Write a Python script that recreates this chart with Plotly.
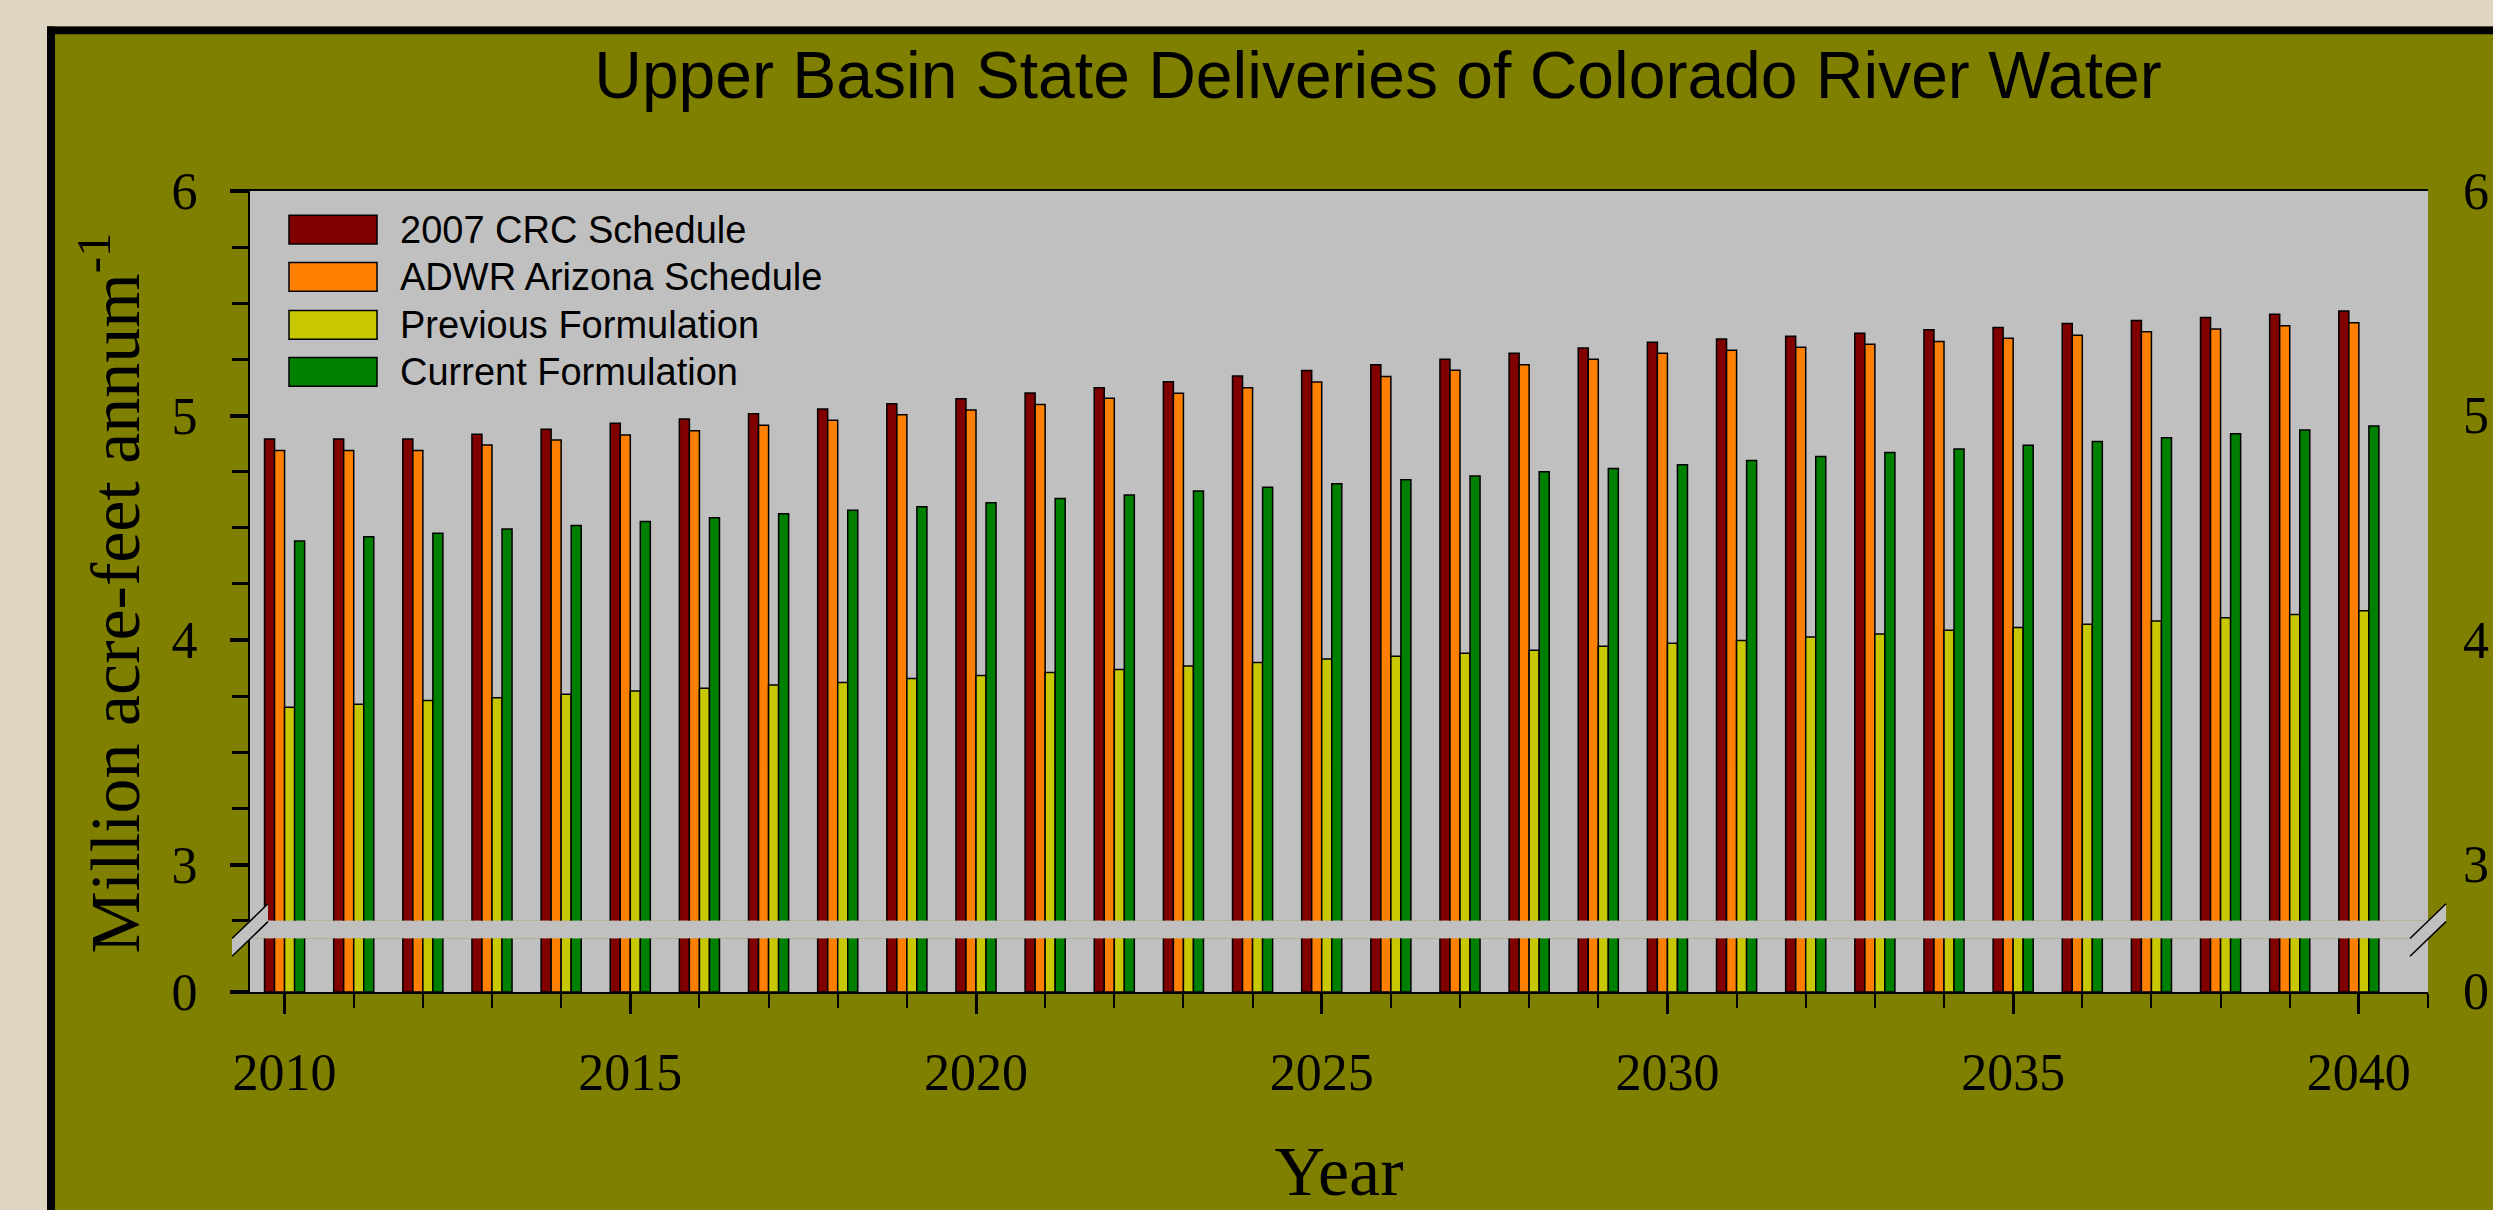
import plotly.graph_objects as go

# ---------------- data ----------------
years = list(range(2010, 2041))
crc_2007 = [4.895, 4.895, 4.895, 4.917, 4.939, 4.965, 4.984, 5.008, 5.029, 5.052,
            5.075, 5.100, 5.124, 5.150, 5.176, 5.200, 5.226, 5.251, 5.277, 5.301,
            5.326, 5.341, 5.353, 5.366, 5.382, 5.392, 5.410, 5.423, 5.437, 5.451, 5.465]
adwr_arizona = [4.844, 4.844, 4.844, 4.869, 4.891, 4.913, 4.932, 4.957, 4.979, 5.003,
                5.025, 5.049, 5.077, 5.099, 5.124, 5.149, 5.174, 5.202, 5.226, 5.251,
                5.277, 5.291, 5.304, 5.317, 5.330, 5.344, 5.358, 5.373, 5.385, 5.400, 5.413]
previous_form = [3.700, 3.714, 3.730, 3.743, 3.758, 3.773, 3.785, 3.800, 3.811, 3.829,
                 3.842, 3.855, 3.869, 3.884, 3.900, 3.915, 3.928, 3.941, 3.954, 3.972,
                 3.985, 3.998, 4.013, 4.027, 4.043, 4.056, 4.070, 4.085, 4.099, 4.114, 4.130]
current_form = [4.441, 4.460, 4.476, 4.494, 4.510, 4.528, 4.544, 4.562, 4.578, 4.594,
                4.611, 4.630, 4.646, 4.664, 4.680, 4.696, 4.714, 4.731, 4.749, 4.764,
                4.781, 4.799, 4.817, 4.835, 4.851, 4.867, 4.884, 4.901, 4.919, 4.935, 4.953]

series_names = ["2007 CRC Schedule", "ADWR Arizona Schedule",
                "Previous Formulation", "Current Formulation"]
series_values = [crc_2007, adwr_arizona, previous_form, current_form]
series_colors = ["#800000", "#FF8000", "#C8C800", "#008000"]

y_major_ticks = [3, 4, 5, 6]
y_low_ticks = [0]

# ---------------- geometry ----------------
W, H = 2493, 1210
ML, MR, MT, MB = 250, 65, 191, 211
PW = W - ML - MR
PH = H - MT - MB


def fx(px):
    return (px - ML) / PW


def fy(py):
    return (H - MB - py) / PH


TOP_BOTTOM_PX = 927
LOW_TOP_PX = 945
UNIT_PX = (TOP_BOTTOM_PX - MT) / 3.25
LOW_MAX = (H - MB - LOW_TOP_PX) / UNIT_PX

OLIVE = "#808000"
GRAY = "#C0C0C0"
BEIGE = "#DED5C2"
SERIF = "Liberation Serif"
SANS = "Liberation Sans"

fig = go.Figure()
for name, vals, col in zip(series_names, series_values, series_colors):
    for xa, ya in (("x", "y"), ("x2", "y2")):
        fig.add_trace(go.Bar(
            x=years, y=vals, name=name, xaxis=xa, yaxis=ya,
            marker=dict(color=col, line=dict(color="black", width=1.5)),
            showlegend=False, hoverinfo="x+y+name"))

tick_common = dict(ticks="outside", tickcolor="black", showgrid=False,
                   zeroline=False, showline=True, linecolor="black", linewidth=2,
                   tickfont=dict(family=SERIF, size=52, color="black"))

shapes = []
# outer beige frame + black border
shapes.append(dict(type="rect", xref="paper", yref="paper", layer="below",
                   x0=fx(-20), x1=fx(47), y0=fy(H + 20), y1=fy(-20),
                   fillcolor=BEIGE, line=dict(width=0)))
shapes.append(dict(type="rect", xref="paper", yref="paper", layer="below",
                   x0=fx(-20), x1=fx(W + 20), y0=fy(25), y1=fy(-20),
                   fillcolor=BEIGE, line=dict(width=0)))
shapes.append(dict(type="rect", xref="paper", yref="paper", layer="below",
                   x0=fx(47), x1=fx(55), y0=fy(H + 20), y1=fy(25),
                   fillcolor="black", line=dict(width=0)))
shapes.append(dict(type="rect", xref="paper", yref="paper", layer="below",
                   x0=fx(47), x1=fx(W + 20), y0=fy(33), y1=fy(25),
                   fillcolor="black", line=dict(width=0)))
# gray gap between the broken axis segments
shapes.append(dict(type="rect", xref="paper", yref="paper", layer="below",
                   x0=0, x1=1, y0=fy(LOW_TOP_PX), y1=fy(TOP_BOTTOM_PX),
                   fillcolor=GRAY, line=dict(width=0)))
# break marks (left and right)
for ax_px in (ML, W - MR):
    xa, xb = ax_px - 18, ax_px + 18
    path = (f"M {fx(xa)} {fy(945)} L {fx(xb)} {fy(910)} L {fx(xb)} {fy(928)} "
            f"L {fx(xa)} {fy(963)} Z")
    shapes.append(dict(type="path", xref="paper", yref="paper", layer="above",
                       path=path, fillcolor=GRAY, line=dict(width=0)))
    shapes.append(dict(type="line", xref="paper", yref="paper", layer="above",
                       x0=fx(xa), y0=fy(945), x1=fx(xb), y1=fy(910),
                       line=dict(color="black", width=1.5)))
    shapes.append(dict(type="line", xref="paper", yref="paper", layer="above",
                       x0=fx(xa), y0=fy(963), x1=fx(xb), y1=fy(928),
                       line=dict(color="black", width=1.5)))

# legend (swatches + labels)
annotations = []
row_centers = [230, 277.5, 326, 373.5]
for name, col, cy in zip(series_names, series_colors, row_centers):
    shapes.append(dict(type="rect", xref="paper", yref="paper", layer="above",
                       x0=fx(289), x1=fx(377), y0=fy(cy + 14.5), y1=fy(cy - 14.5),
                       fillcolor=col, line=dict(color="black", width=1.5)))
    annotations.append(dict(text=name, xref="paper", yref="paper",
                            x=fx(398), y=fy(cy), xanchor="left", yanchor="middle",
                            showarrow=False,
                            font=dict(family=SANS, size=38, color="black")))

# right-hand tick labels (placed on the axis scales)
for v in y_major_ticks:
    annotations.append(dict(text=str(v), xref="paper", yref="y", x=1, y=v,
                            xanchor="left", yanchor="middle", xshift=33,
                            showarrow=False,
                            font=dict(family=SERIF, size=52, color="black")))
for v in y_low_ticks:
    annotations.append(dict(text=str(v), xref="paper", yref="y2", x=1, y=v,
                            xanchor="left", yanchor="middle", xshift=33,
                            showarrow=False,
                            font=dict(family=SERIF, size=52, color="black")))

annotations.append(dict(text="Million acre-feet annum<sup>-1</sup>",
                        xref="paper", yref="paper", x=fx(110), y=fy(597),
                        xanchor="center", yanchor="middle", textangle=-90,
                        showarrow=False,
                        font=dict(family=SERIF, size=70, color="black")))

fig.update_layout(
    width=W, height=H,
    margin=dict(l=ML, r=MR, t=MT, b=MB, pad=0),
    paper_bgcolor=OLIVE, plot_bgcolor=GRAY,
    barmode="group", bargap=0.42, bargroupgap=0.0,
    showlegend=False,
    title=dict(text="Upper Basin State Deliveries of Colorado River Water",
               x=1378 / W, xref="container", xanchor="center",
               y=1 - 75 / H, yref="container", yanchor="middle",
               font=dict(family=SANS, size=66, color="black")),
    xaxis=dict(domain=[0, 1], anchor="y", range=[2009.5, 2041], side="top",
               showline=True, linecolor="black", linewidth=2, ticks="",
               showticklabels=False, showgrid=False, zeroline=False),
    xaxis2=dict(domain=[0, 1], anchor="y2", range=[2009.5, 2041],
                tick0=2010, dtick=5, ticklen=20, tickwidth=3,
                ticklabelstandoff=14,
                minor=dict(tick0=2010, dtick=1, ticks="outside", ticklen=14,
                           tickwidth=2, tickcolor="black"),
                title=dict(text="Year", standoff=48,
                           font=dict(family=SERIF, size=70, color="black")),
                **tick_common),
    yaxis=dict(domain=[fy(TOP_BOTTOM_PX), 1], anchor="x", range=[2.75, 6],
               tickvals=y_major_ticks, ticklen=18, tickwidth=4,
               ticklabelstandoff=22,
               minor=dict(tick0=0, dtick=0.25, ticks="outside", ticklen=16,
                          tickwidth=3, tickcolor="black"),
               **tick_common),
    yaxis2=dict(domain=[0, fy(LOW_TOP_PX)], anchor="x2", range=[0, LOW_MAX],
                tickvals=y_low_ticks, ticklen=18, tickwidth=4,
                ticklabelstandoff=22, **tick_common),
    yaxis3=dict(overlaying="y", side="right", anchor="x", range=[2.75, 6],
                tickvals=y_major_ticks, ticklen=18, tickwidth=4,
                showticklabels=False,
                minor=dict(tick0=0, dtick=0.25, ticks="outside", ticklen=16,
                           tickwidth=3, tickcolor="black"),
                **tick_common),
    yaxis4=dict(overlaying="y2", side="right", anchor="x2", range=[0, LOW_MAX],
                tickvals=y_low_ticks, ticklen=18, tickwidth=4,
                showticklabels=False, **tick_common),
    shapes=shapes,
    annotations=annotations,
)

fig.write_html("out.html")
